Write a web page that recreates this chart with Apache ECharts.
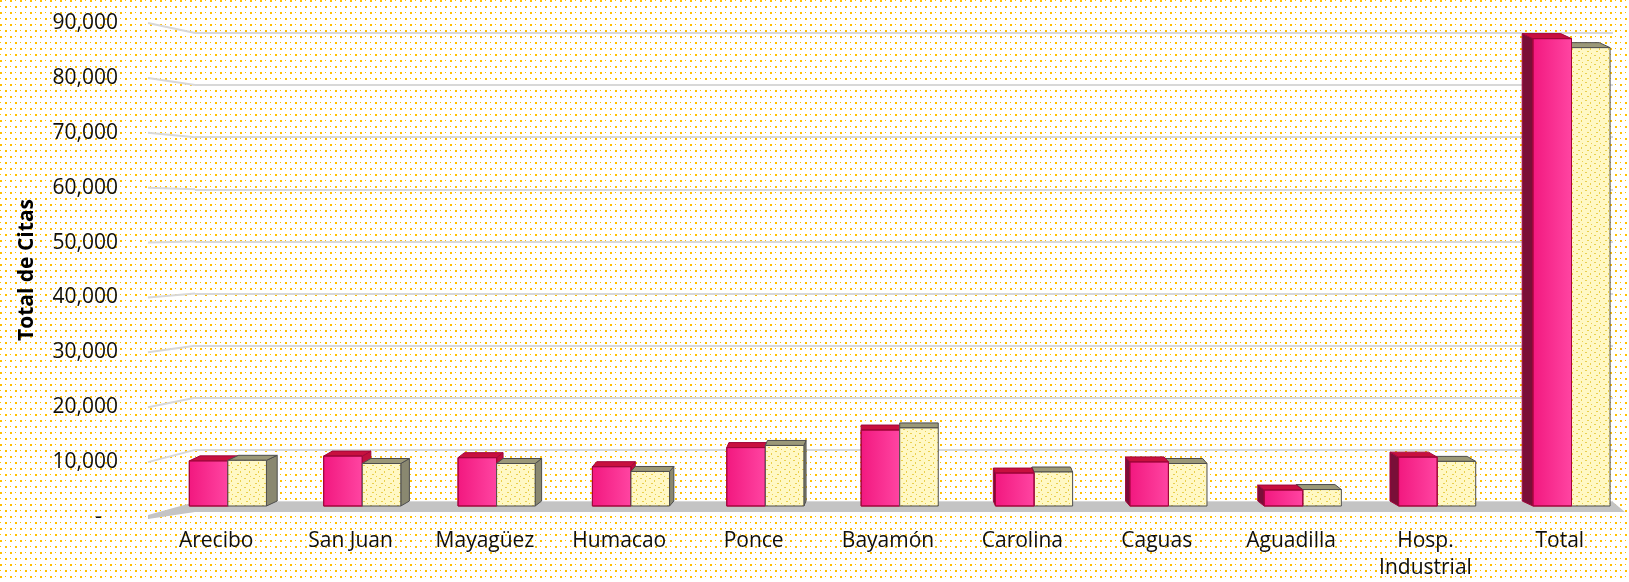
<!DOCTYPE html>
<html>
<head>
<meta charset="utf-8">
<script src="https://cdn.jsdelivr.net/npm/echarts@6/dist/echarts.min.js"></script>
<style>
  html, body { margin: 0; padding: 0; background: #fff; }
  #chart { width: 1629px; height: 582px; }
</style>
</head>
<body>
<div id="chart"></div>
<script>
const categories = ["Arecibo", "San Juan", "Mayagüez", "Humacao", "Ponce", "Bayamón",
  "Carolina", "Caguas", "Aguadilla", "Hosp.\nIndustrial", "Total"];
const pinkValues = [8500, 9400, 9100, 7400, 11000, 14300, 6200, 8300, 3000, 9200, 88000];
const yellowValues = [8600, 8000, 8000, 6500, 11400, 14700, 6400, 8000, 3100, 8400, 86300];
const yMax = 90000;
const yStep = 10000;

const FONT = "'Open Sans', 'Noto Sans', sans-serif";

// dotted page background
function dotTile() {
  const c = document.createElement("canvas");
  c.width = 10; c.height = 12;
  const g = c.getContext("2d");
  g.fillStyle = "#ffffff";
  g.fillRect(0, 0, 10, 12);
  g.fillStyle = "#ffc000";
  g.fillRect(0, 0, 2, 2);
  g.fillRect(5, 6, 2, 2);
  g.fillRect(5, 0, 1, 1);
  g.fillRect(0, 6, 1, 1);
  return c;
}
// speckled fill for the pale yellow bars
function speckleTile() {
  const c = document.createElement("canvas");
  c.width = 9; c.height = 9;
  const g = c.getContext("2d");
  g.fillStyle = "#fff8c4";
  g.fillRect(0, 0, 9, 9);
  g.fillStyle = "#e9cf4e";
  g.fillRect(1, 1, 2, 1);
  g.fillRect(6, 3, 1, 2);
  g.fillRect(3, 6, 2, 1);
  g.fillRect(7, 8, 1, 1);
  return c;
}

const dom = document.getElementById("chart");
dom.style.backgroundImage = "url(" + dotTile().toDataURL() + ")";
const speckle = { image: speckleTile(), repeat: "repeat" };

const chart = echarts.init(dom);

const VP_X = 900;
const DEPTH_K = 0.016;
const DEPTH_Y = -5;

function box(x, w, yTop, y0, dx, s) {
  const items = [];
  if (dx > 0.5) {
    items.push({ type: "polygon", shape: { points: [[x + w, yTop], [x + w + dx, yTop + DEPTH_Y], [x + w + dx, y0 + DEPTH_Y], [x + w, y0]] },
      style: { fill: s.sideR, stroke: s.stroke, lineWidth: 1 } });
  } else if (dx < -0.5) {
    items.push({ type: "polygon", shape: { points: [[x, yTop], [x + dx, yTop + DEPTH_Y], [x + dx, y0 + DEPTH_Y], [x, y0]] },
      style: { fill: s.sideL, stroke: s.stroke, lineWidth: 1 } });
  }
  items.push({ type: "polygon", shape: { points: [[x, yTop], [x + w, yTop], [x + w + dx, yTop + DEPTH_Y], [x + dx, yTop + DEPTH_Y]] },
    style: { fill: s.top, stroke: s.stroke, lineWidth: 1 } });
  items.push({ type: "rect", shape: { x: x, y: yTop, width: w, height: y0 - yTop },
    style: { fill: s.front, stroke: s.stroke, lineWidth: 1 } });
  return items;
}

const pinkStyle = {
  front: new echarts.graphic.LinearGradient(0, 0, 1, 0, [
    { offset: 0, color: "#f2187f" }, { offset: 1, color: "#ff45a2" }]),
  top: "#c8103f", sideR: "#c0103c", sideL: "#7a0f38", stroke: "#a0063a"
};
const yellowStyle = {
  front: speckle, top: "#9b9878", sideR: "#8a8870", sideL: "#8a8870", stroke: "#4d4d4d"
};

function renderBars(params, api) {
  const i = api.value(0);
  const base = api.coord([i, 0]);
  const bw = api.size([1, 0])[0];
  const y0 = base[1];
  const pTop = api.coord([i, api.value(1)])[1];
  const yTop = api.coord([i, api.value(2)])[1];
  const w = bw * 0.287;
  const xp = base[0] - bw * 0.2;
  const xy = xp + w;
  const dx = DEPTH_K * (VP_X - xy);
  const pink = box(xp, w, pTop, y0, dx, pinkStyle);
  const yellow = box(xy, w, yTop, y0, dx, yellowStyle);
  return { type: "group", children: dx >= 0 ? pink.concat(yellow) : yellow.concat(pink) };
}

const option = {
  animation: false,
  backgroundColor: "transparent",
  grid: [
    { left: 149, right: 2, top: 28, height: 482 },   // bars
    { left: 195, right: 16, top: 33, height: 469 },  // back wall gridlines
    { left: 148, width: 1, top: 23, height: 494 }    // side wall labels
  ],
  xAxis: [
    {
      type: "category", gridIndex: 0, data: categories,
      axisLine: { show: false }, axisTick: { show: false },
      axisLabel: { interval: 0, margin: 22, fontSize: 21, lineHeight: 27, color: "#111", fontFamily: FONT }
    },
    { type: "value", gridIndex: 1, min: 0, max: 1, show: false },
    { type: "value", gridIndex: 2, min: 0, max: 1, show: false }
  ],
  yAxis: [
    { type: "value", gridIndex: 0, min: 0, max: yMax, show: false },
    {
      type: "value", gridIndex: 1, min: 0, max: yMax, interval: yStep,
      axisLine: { show: false }, axisTick: { show: false }, axisLabel: { show: false },
      splitLine: { lineStyle: { color: "#d8d8d8", width: 2 } }
    },
    {
      type: "value", gridIndex: 2, min: 0, max: yMax, interval: yStep,
      axisLine: { show: false }, axisTick: { show: false }, splitLine: { show: false },
      axisLabel: {
        margin: 30, fontSize: 21, color: "#111", fontFamily: FONT,
        formatter: (v) => (v === 0 ? "-   " : v.toLocaleString("en-US"))
      },
      name: "Total de Citas", nameLocation: "middle", nameRotate: 90, nameGap: 110,
      nameTextStyle: { fontSize: 21, fontWeight: "bold", color: "#000", fontFamily: FONT }
    }
  ],
  series: [
    {
      type: "custom",
      xAxisIndex: 0, yAxisIndex: 0,
      renderItem: renderBars,
      encode: { x: 0, y: [1, 2] },
      data: categories.map((c, i) => [i, pinkValues[i], yellowValues[i]]),
      z: 3
    }
  ]
};

chart.setOption(option);

// side wall lines and floor, placed with the axes' own scales
const xLeft = chart.convertToPixel({ xAxisIndex: 2 }, 0);
const xBack = chart.convertToPixel({ xAxisIndex: 1 }, 0);
const xRight = chart.convertToPixel({ xAxisIndex: 1 }, 1);
const wall = [];
for (let v = yStep; v <= yMax; v += yStep) {
  wall.push({
    type: "line", z: 1,
    shape: { x1: xLeft, y1: chart.convertToPixel({ yAxisIndex: 2 }, v), x2: xBack, y2: chart.convertToPixel({ yAxisIndex: 1 }, v) },
    style: { stroke: "#d8d8d8", lineWidth: 2 }
  });
}
const back0 = chart.convertToPixel({ yAxisIndex: 1 }, 0);
const label0 = chart.convertToPixel({ yAxisIndex: 2 }, 0);
wall.push({
  type: "polygon", z: 1,
  shape: { points: [[xLeft, label0 - 2], [xBack, back0], [xRight, back0], [xRight + 12, back0 + 10], [xBack, back0 + 10], [xLeft, label0 + 2]] },
  style: { fill: "#c4c4c4" }
});
chart.setOption({ graphic: wall });
</script>
</body>
</html>
